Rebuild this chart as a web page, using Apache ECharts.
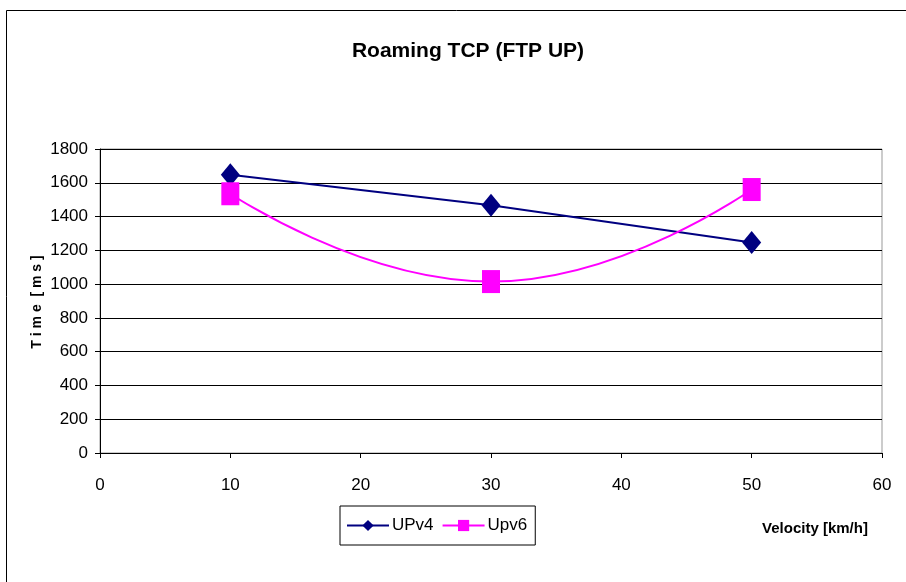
<!DOCTYPE html>
<html>
<head>
<meta charset="utf-8">
<script src="https://cdn.jsdelivr.net/npm/echarts@6/dist/echarts.min.js"></script>
<style>
html,body{margin:0;padding:0;background:#fff;}
#chart{width:906px;height:582px;}
</style>
</head>
<body>
<div id="chart"></div>
<script>
var titleText = 'Roaming TCP (FTP UP)';
var xName = 'Velocity [km/h]';
var yName = 'T i m e  [ m s ]';
var velocity = [10, 30, 50];
var upv4 = [1648, 1467, 1247];
var upv6 = [1535, 1015, 1560];
var seriesNames = ['UPv4', 'Upv6'];

var FONT = "'Liberation Sans',Arial,sans-serif";
var chart = echarts.init(document.getElementById('chart'), null, {renderer: 'canvas'});

function pairs(xs, ys) { return xs.map(function (x, i) { return [x, ys[i]]; }); }

chart.setOption({
  backgroundColor: '#fff',
  animation: false,
  title: {
    text: titleText,
    left: 463, top: 36, textAlign: 'center',
    textStyle: {fontFamily: FONT, fontWeight: 'bold', fontSize: 21, color: '#000'}
  },
  graphic: [
    {type: 'rect', shape: {x: 6.5, y: 10.5, width: 1000, height: 1000}, style: {fill: 'none', stroke: '#000', lineWidth: 1}, z: -1},
    {type: 'text', x: 37, y: 302, rotation: Math.PI / 2, style: {text: yName, fontFamily: FONT, fontWeight: 'bold', fontSize: 14, fill: '#000', align: 'center', verticalAlign: 'middle'}},
    {type: 'text', x: 815, y: 529, style: {text: xName, fontFamily: FONT, fontWeight: 'bold', fontSize: 15, fill: '#000', align: 'center', verticalAlign: 'middle'}}
  ],
  legend: {
    left: 340, top: 506,
    padding: [11, 8, 11, 6],
    borderColor: '#000', borderWidth: 1,
    itemWidth: 42, itemHeight: 14, itemGap: 8,
    textStyle: {fontFamily: FONT, fontSize: 17, color: '#000', padding: [0, 0, 0, -2]},
    data: seriesNames
  },
  grid: {
    left: 100, right: 24, top: 149, bottom: 129,
    show: true, borderColor: '#999', borderWidth: 1, backgroundColor: 'transparent'
  },
  xAxis: {
    type: 'value', min: 0, max: 60, interval: 10,
    axisLine: {show: true, lineStyle: {color: '#000', width: 1}},
    axisTick: {show: true, length: 5, lineStyle: {color: '#000'}},
    axisLabel: {fontFamily: FONT, fontSize: 17, color: '#000', margin: 24, formatter: function (v) { return String(v); }},
    splitLine: {show: false}
  },
  yAxis: {
    type: 'value', min: 0, max: 1800, interval: 200,
    axisLine: {show: true, lineStyle: {color: '#000', width: 1}},
    axisTick: {show: true, length: 5, lineStyle: {color: '#000'}},
    axisLabel: {fontFamily: FONT, fontSize: 17, color: '#000', margin: 12, formatter: function (v) { return String(v); }},
    splitLine: {show: true, lineStyle: {color: '#000', width: 1}}
  },
  series: [
    {
      name: seriesNames[0], type: 'line', data: pairs(velocity, upv4),
      color: '#000080',
      lineStyle: {color: '#000080', width: 2},
      symbol: 'diamond', symbolSize: [19, 23],
      itemStyle: {color: '#000080'}
    },
    {
      name: seriesNames[1], type: 'line', data: pairs(velocity, upv6), smooth: 0.5,
      color: '#ff00ff',
      lineStyle: {color: '#ff00ff', width: 2},
      symbol: 'rect', symbolSize: [18, 23],
      itemStyle: {color: '#ff00ff'}
    }
  ]
});
</script>
</body>
</html>
